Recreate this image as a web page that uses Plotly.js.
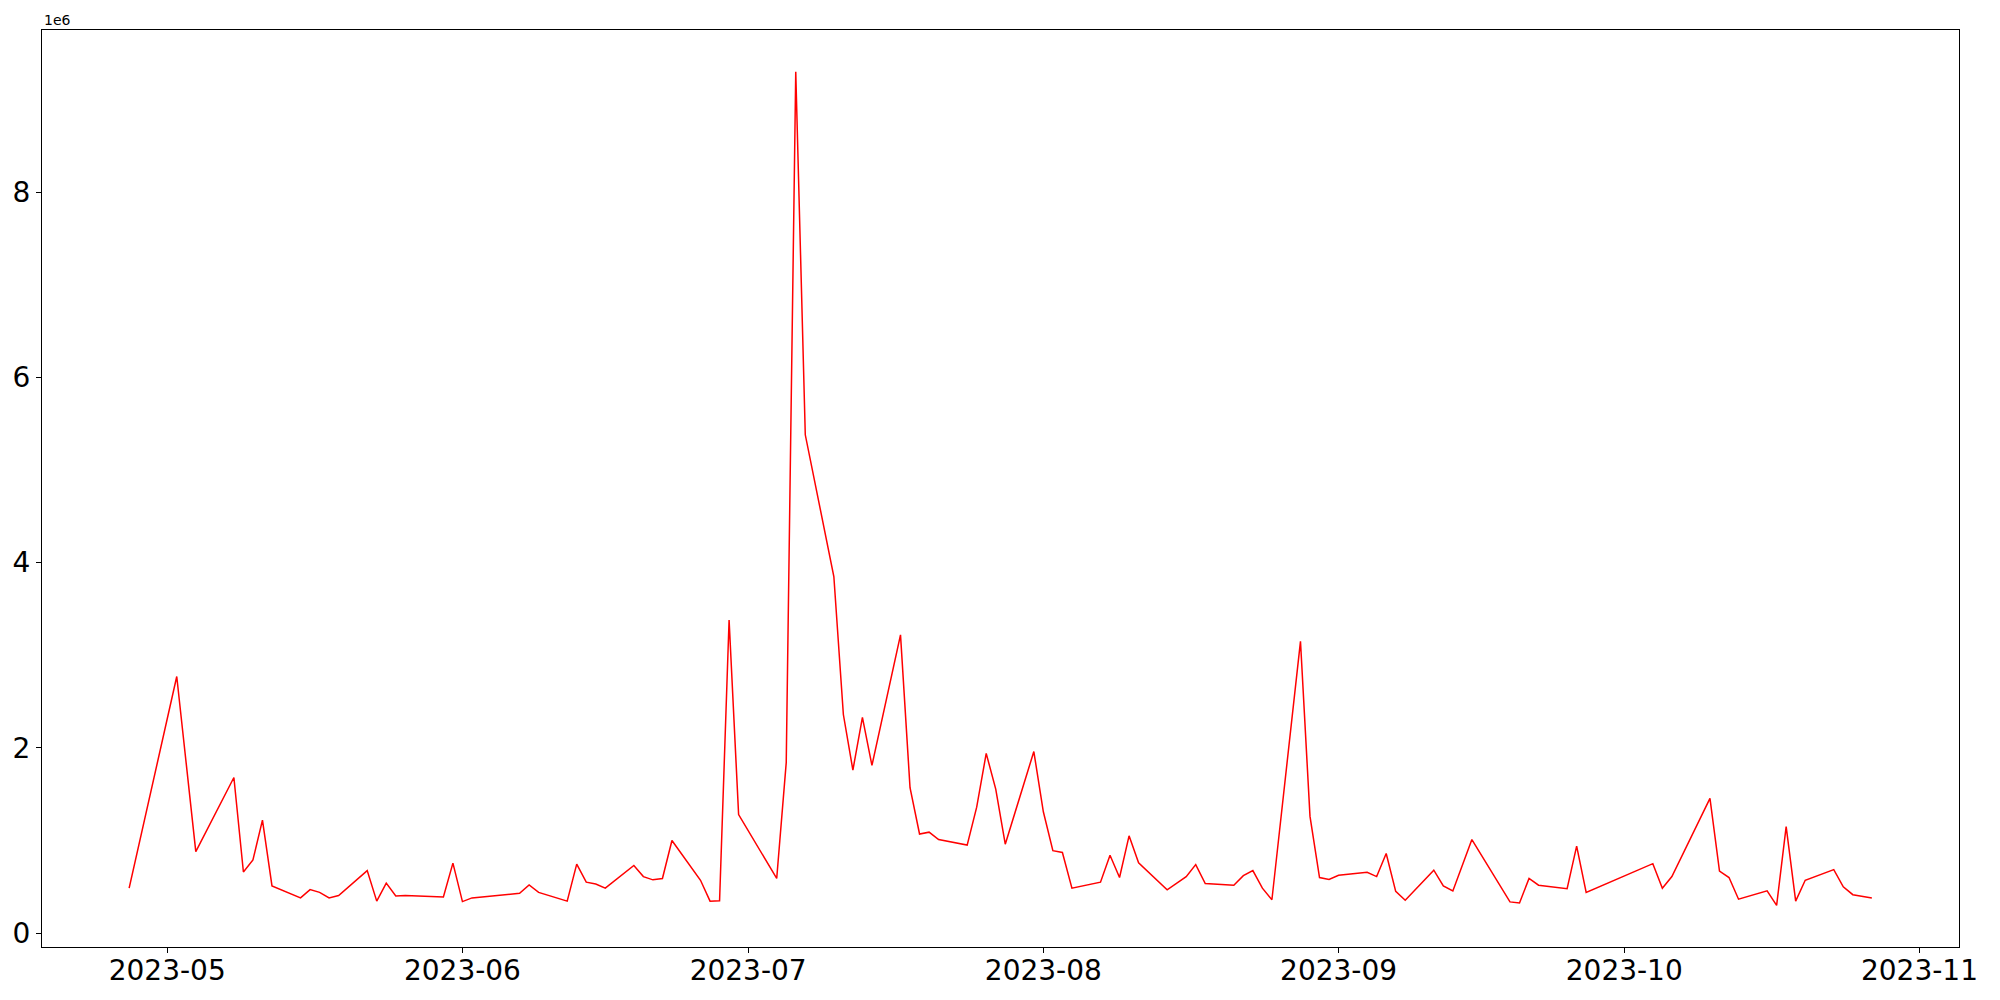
<!DOCTYPE html>
<html>
<head>
<meta charset="utf-8">
<script src="https://cdn.plot.ly/plotly-3.0.1.min.js"></script>
<style>
  html, body { margin: 0; padding: 0; background: #fff; }
  #chart { width: 2000px; height: 1000px; }
</style>
</head>
<body>
<div id="chart"></div>
<script>
const dates = [
  "2023-04-27","2023-05-02","2023-05-04","2023-05-08","2023-05-09","2023-05-10","2023-05-11","2023-05-12",
  "2023-05-15","2023-05-16","2023-05-17","2023-05-18","2023-05-19","2023-05-22","2023-05-23","2023-05-24",
  "2023-05-25","2023-05-26","2023-05-30","2023-05-31","2023-06-01","2023-06-02","2023-06-07","2023-06-08",
  "2023-06-09","2023-06-12","2023-06-13","2023-06-14","2023-06-15","2023-06-16","2023-06-19","2023-06-20",
  "2023-06-21","2023-06-22","2023-06-23","2023-06-26","2023-06-27","2023-06-28","2023-06-29","2023-06-30",
  "2023-07-04","2023-07-05","2023-07-06","2023-07-07","2023-07-10","2023-07-11","2023-07-12","2023-07-13",
  "2023-07-14","2023-07-17","2023-07-18","2023-07-19","2023-07-20","2023-07-21","2023-07-24","2023-07-25",
  "2023-07-26","2023-07-27","2023-07-28","2023-07-31","2023-08-01","2023-08-02","2023-08-03","2023-08-04",
  "2023-08-07","2023-08-08","2023-08-09","2023-08-10","2023-08-11","2023-08-14","2023-08-16","2023-08-17",
  "2023-08-18","2023-08-21","2023-08-22","2023-08-23","2023-08-24","2023-08-25","2023-08-28","2023-08-29",
  "2023-08-30","2023-08-31","2023-09-01","2023-09-04","2023-09-05","2023-09-06","2023-09-07","2023-09-08",
  "2023-09-11","2023-09-12","2023-09-13","2023-09-15","2023-09-19","2023-09-20","2023-09-21","2023-09-22",
  "2023-09-25","2023-09-26","2023-09-27","2023-10-04","2023-10-05","2023-10-06","2023-10-10","2023-10-11",
  "2023-10-12","2023-10-13","2023-10-16","2023-10-17","2023-10-18","2023-10-19","2023-10-20","2023-10-23",
  "2023-10-24","2023-10-25","2023-10-27"
];
const values = [
  485000, 2770000, 880000, 1680000, 660000, 790000, 1220000, 510000,
  380000, 470000, 440000, 380000, 405000, 675000, 345000, 540000,
  400000, 405000, 390000, 755000, 340000, 380000, 430000, 520000,
  440000, 345000, 745000, 550000, 530000, 485000, 730000, 610000,
  575000, 590000, 1000000, 570000, 345000, 350000, 3380000, 1280000,
  590000, 1840000, 9300000, 5380000, 3850000, 2360000, 1760000, 2330000,
  1810000, 3220000, 1570000, 1070000, 1090000, 1010000, 950000, 1360000,
  1940000, 1555000, 960000, 1960000, 1310000, 890000, 870000, 485000,
  550000, 840000, 600000, 1050000, 760000, 467000, 610000, 740000,
  535000, 517000, 620000, 675000, 485000, 360000, 3150000, 1260000,
  600000, 580000, 625000, 657000, 610000, 860000, 450000, 355000,
  680000, 510000, 455000, 1010000, 337000, 326000, 590000, 517000,
  480000, 940000, 440000, 750000, 485000, 610000, 1455000, 670000,
  600000, 366000, 456000, 300000, 1150000, 345000, 570000, 685000,
  500000, 415000, 380000
];
const xTickVals = ["2023-05-01","2023-06-01","2023-07-01","2023-08-01","2023-09-01","2023-10-01","2023-11-01"];
const xTickText = ["2023-05","2023-06","2023-07","2023-08","2023-09","2023-10","2023-11"];
const yTickVals = [0, 2000000, 4000000, 6000000, 8000000];
const yTickText = ["0","2","4","6","8"];

// matplotlib-style 5% margins
const ms = dates.map(d => Date.parse(d));
const xmin = Math.min(...ms), xmax = Math.max(...ms);
const xpad = (xmax - xmin) * 0.05;
const ymin = Math.min(...values), ymax = Math.max(...values);
const ypad = (ymax - ymin) * 0.05;

const font = "DejaVu Sans, Liberation Sans, sans-serif";

const trace = {
  x: dates,
  y: values,
  type: "scatter",
  mode: "lines",
  line: { color: "#ff0000", width: 1.5 },
  hoverinfo: "skip"
};

const axisCommon = {
  showgrid: false,
  zeroline: false,
  showline: true,
  mirror: true,
  linecolor: "#000",
  linewidth: 1.1,
  ticks: "outside",
  ticklen: 5,
  tickwidth: 1.1,
  tickcolor: "#000",
  tickfont: { family: font, size: 28, color: "#000" }
};

const layout = {
  width: 2000,
  height: 1000,
  autosize: false,
  margin: { l: 42, r: 41, t: 30, b: 53, pad: 0 },
  paper_bgcolor: "#fff",
  plot_bgcolor: "#fff",
  showlegend: false,
  xaxis: Object.assign({}, axisCommon, {
    type: "date",
    range: [xmin - xpad, xmax + xpad],
    tickmode: "array",
    tickvals: xTickVals,
    ticktext: xTickText,
    ticklabelstandoff: -7
  }),
  yaxis: Object.assign({}, axisCommon, {
    range: [ymin - ypad, ymax + ypad],
    tickmode: "array",
    tickvals: yTickVals,
    ticktext: yTickText
  }),
  annotations: [{
    text: "1e6",
    xref: "paper", yref: "paper",
    x: 0, y: 1,
    xanchor: "left", yanchor: "bottom",
    xshift: 0, yshift: 0,
    showarrow: false,
    font: { family: font, size: 14, color: "#000" }
  }]
};

Plotly.newPlot("chart", [trace], layout, { displayModeBar: false, staticPlot: true });
</script>
</body>
</html>
